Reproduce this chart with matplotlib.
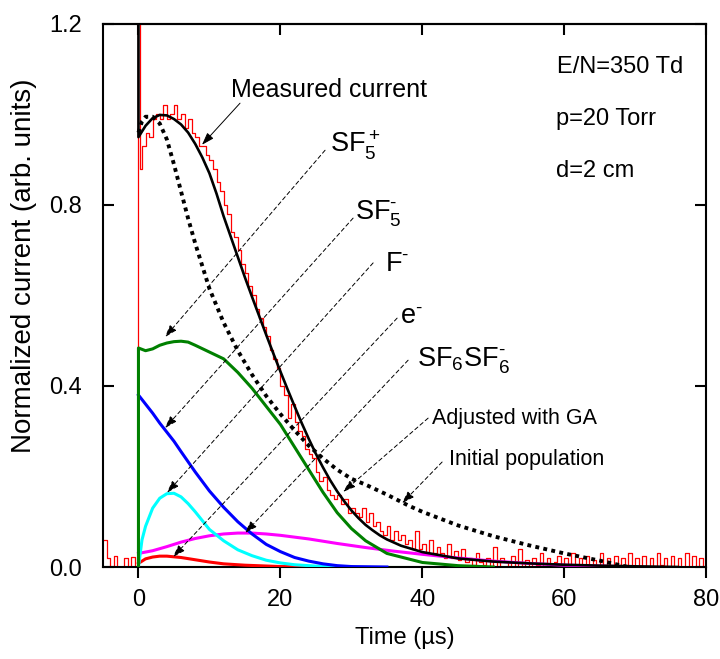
import numpy as np
import matplotlib
matplotlib.use("Agg")
import matplotlib.pyplot as plt

plt.rcParams['font.family'] = ['Liberation Sans', 'DejaVu Sans']
plt.rcParams['mathtext.fontset'] = 'custom'
plt.rcParams['mathtext.rm'] = 'Liberation Sans'
plt.rcParams['mathtext.it'] = 'Liberation Sans'
plt.rcParams['mathtext.default'] = 'rm'

# ---- measured current (noisy signal), 0.5 us sampling ----
meas_t_pre = np.arange(-5.0, 0.0, 0.5)
meas_pre = [0.06, 0.02, 0.0, 0.025, 0.0, 0.0, 0.02, 0.0, 0.022, 0.0]
meas_t_spike = [0.0, 0.15]
meas_spike = [1.3, 0.88]
meas_t_post = np.arange(0.5, 80.01, 0.5)
meas_post = [
    0.93, 0.96, 0.95, 0.99, 1.00, 0.99, 1.02, 0.99, 1.00, 1.02,   # 0.5-5
    0.99, 1.00, 0.97, 0.99, 0.96, 0.95, 0.93, 0.93, 0.91, 0.90,   # 5.5-10
    0.88, 0.85, 0.83, 0.80, 0.78, 0.74, 0.73, 0.70, 0.67, 0.65,   # 10.5-15
    0.62, 0.60, 0.57, 0.55, 0.53, 0.51, 0.48, 0.46, 0.44, 0.40,   # 15.5-20
    0.38, 0.33, 0.36, 0.32, 0.30, 0.29, 0.26, 0.25, 0.24, 0.21,   # 20.5-25
    0.19, 0.20, 0.17, 0.16, 0.15, 0.16, 0.14, 0.15, 0.12, 0.13,   # 25.5-30
    0.12, 0.11, 0.13, 0.10, 0.12, 0.09, 0.10, 0.08, 0.07, 0.09,   # 30.5-35
    0.06, 0.08, 0.06, 0.07, 0.05, 0.06, 0.04, 0.08, 0.04, 0.05,   # 35.5-40
    0.03, 0.06, 0.03, 0.045, 0.03, 0.02, 0.05, 0.02, 0.035, 0.015,  # 40.5-45
    0.04, 0.01, 0.02, 0.005, 0.03, 0.01, 0.005, 0.02, 0.0, 0.045,   # 45.5-50
    0.0, 0.02, 0.01, 0.0, 0.025, 0.0, 0.04, 0.0, 0.015, 0.0,        # 50.5-55
    0.02, 0.005, 0.03, 0.0, 0.02, 0.0, 0.01, 0.025, 0.0, 0.02,      # 55.5-60
    0.0, 0.03, 0.005, 0.02, 0.0, 0.025, 0.0, 0.015, 0.0, 0.03,      # 60.5-65
    0.0, 0.02, 0.0, 0.025, 0.005, 0.02, 0.0, 0.03, 0.0, 0.02,       # 65.5-70
    0.0, 0.025, 0.0, 0.02, 0.0, 0.03, 0.005, 0.02, 0.0, 0.025,      # 70.5-75
    0.0, 0.02, 0.0, 0.03, 0.0, 0.025, 0.0, 0.02, 0.0, 0.02,         # 75.5-80
]

# ---- adjusted with GA (sum of species) ----
fit_t = [0, 0, 1, 2, 3, 4, 5, 6, 7, 8, 9, 10, 11, 12, 13, 14, 15, 16, 17, 18,
         19, 20, 21, 22, 23, 24, 25, 26, 27, 28, 29, 30, 31, 32, 33, 34, 35, 37,
         40, 45, 50, 55, 60, 65, 70, 76]
fit_v = [1.3, 0.95, 0.975, 0.992, 0.999, 0.998, 0.99, 0.978, 0.96, 0.935, 0.905,
         0.87, 0.825, 0.775, 0.73, 0.685, 0.64, 0.597, 0.555, 0.513, 0.472, 0.432,
         0.393, 0.355, 0.318, 0.283, 0.25, 0.22, 0.192, 0.167, 0.145, 0.125, 0.108,
         0.093, 0.081, 0.07, 0.061, 0.047, 0.033, 0.019, 0.012, 0.008, 0.005,
         0.003, 0.0015, 0.0]

# ---- initial population ----
init_t = [0, 0.5, 1, 2, 3, 4, 5, 6, 7, 8, 10, 12, 14, 16, 18, 20, 22, 24, 26, 28,
          30, 32, 35, 38, 40, 45, 50, 55, 60, 65, 69]
init_v = [0.96, 0.985, 0.995, 0.995, 0.98, 0.945, 0.89, 0.83, 0.77, 0.715, 0.615,
          0.54, 0.478, 0.425, 0.378, 0.338, 0.302, 0.268, 0.24, 0.215, 0.195,
          0.182, 0.16, 0.136, 0.122, 0.092, 0.068, 0.048, 0.03, 0.014, 0.0]

# ---- species ----
sf5p_t = [0, 0, 1, 2, 3, 4, 5, 6, 7, 8, 10, 12, 14, 16, 18, 20, 22, 24, 26, 28,
          30, 32, 35, 40, 45, 50]
sf5p_v = [0.0, 0.484, 0.478, 0.482, 0.49, 0.495, 0.498, 0.499, 0.497, 0.49, 0.475,
          0.46, 0.43, 0.395, 0.355, 0.315, 0.265, 0.215, 0.165, 0.12, 0.085,
          0.058, 0.03, 0.01, 0.003, 0.0]

sf5m_t = [0, 1, 2, 3, 4, 5, 6, 8, 10, 12, 14, 16, 18, 20, 22, 24, 26, 28, 30, 35]
sf5m_v = [0.38, 0.36, 0.34, 0.318, 0.298, 0.278, 0.255, 0.21, 0.168, 0.132, 0.1,
          0.073, 0.05, 0.034, 0.021, 0.013, 0.007, 0.003, 0.001, 0.0]

fm_t = [0, 0.5, 1, 2, 3, 4, 5, 6, 7, 8, 10, 12, 14, 16, 18, 20, 22, 25, 30]
fm_v = [0.0, 0.06, 0.09, 0.13, 0.152, 0.162, 0.163, 0.155, 0.14, 0.122, 0.083,
        0.058, 0.038, 0.025, 0.015, 0.009, 0.005, 0.002, 0.0]

em_t = [0, 1, 2, 3, 4, 6, 8, 10, 12, 15, 20, 25]
em_v = [0.008, 0.018, 0.022, 0.024, 0.024, 0.021, 0.016, 0.011, 0.007, 0.004, 0.001, 0.0]

dim_t = [0, 2, 4, 6, 8, 10, 12, 14, 16, 18, 20, 24, 28, 32, 36, 40, 45, 50, 55,
         60, 65, 70]
dim_v = [0.03, 0.036, 0.045, 0.055, 0.063, 0.069, 0.073, 0.075, 0.075, 0.073, 0.07,
         0.062, 0.052, 0.043, 0.035, 0.028, 0.02, 0.013, 0.008, 0.004, 0.002, 0.0]

other_t = [0, 76]
other_v = [0.0, 0.0]

meas_t = np.concatenate([meas_t_pre, meas_t_spike, meas_t_post])
meas_v = np.concatenate([meas_pre, meas_spike, meas_post])

fig = plt.figure(figsize=(7.2, 6.59), dpi=100)
ax = fig.add_axes([0.143, 0.1396, 0.838, 0.824])

ax.plot(meas_t, meas_v, color='red', lw=0.9, drawstyle='steps-post', zorder=1)
ax.plot(other_t, other_v, color='#00ff00', lw=2.2, zorder=2)
ax.plot(dim_t, dim_v, color='#ff00ff', lw=2.2, zorder=3)
ax.plot(em_t, em_v, color='red', lw=2.2, zorder=3)
ax.plot(fm_t, fm_v, color='cyan', lw=2.2, zorder=3)
ax.plot(sf5m_t, sf5m_v, color='blue', lw=2.2, zorder=3)
ax.plot(sf5p_t, sf5p_v, color='green', lw=2.2, zorder=3)
ax.plot(init_t, init_v, color='black', lw=2.8, linestyle=(0, (1, 1.1)), zorder=4)
ax.plot(fit_t, fit_v, color='black', lw=1.9, zorder=5)

ax.set_xlim(-5, 80)
ax.set_ylim(0, 1.2)
ax.set_xticks([0, 20, 40, 60, 80])
ax.set_yticks([0.0, 0.4, 0.8, 1.2])
ax.set_yticklabels(['0.0', '0.4', '0.8', '1.2'])

for s in ax.spines.values():
    s.set_linewidth(1.5)
ax.tick_params(axis='x', direction='out', length=8, width=1.5, labelsize=17, pad=8,
               top=False)
ax.tick_params(axis='y', direction='in', length=8, width=1.5, labelsize=17, pad=15,
               left=True, right=True)
top = ax.secondary_xaxis('top')
top.set_xticks([0, 20, 40, 60, 80])
top.tick_params(direction='in', length=8, width=1.5, labeltop=False)
top.spines['top'].set_linewidth(1.5)

ax.set_xlabel('Time (\u00b5s)', fontsize=17, labelpad=11)
ax.set_ylabel('Normalized current (arb. units)', fontsize=20)
ax.yaxis.set_label_coords(-0.11, 0.555)

# conditions
ax.text(59.0, 1.092, 'E/N=350 Td', fontsize=17)
ax.text(58.85, 0.977, 'p=20 Torr', fontsize=17)
ax.text(58.85, 0.862, 'd=2 cm', fontsize=17)

# labels with arrows
dash = (0, (4, 3))
arrow_kw = dict(arrowstyle='-|>,head_length=0.75,head_width=0.25', color='black',
                lw=0.7, linestyle=dash, shrinkA=0, shrinkB=0, mutation_scale=10)
minus = r'\text{-}'
labels = [
    ('Measured current', (13.1, 1.039), (14.31, 1.025), (8.95, 0.933), 18, '-'),
    ('SF$_5^+$', (27.0, 0.915), (26.29, 0.921), (3.74, 0.508), 19.5, dash),
    ('SF$_5^{' + minus + '}$', (30.5, 0.767), (30.24, 0.771), (3.74, 0.307), 19.5, dash),
    ('F$^{' + minus + '}$', (34.75, 0.654), (33.06, 0.672), (4.02, 0.164), 19.5, dash),
    ('e$^{' + minus + '}$', (36.9, 0.539), (36.44, 0.550), (4.86, 0.022), 19.5, dash),
    ('SF$_6$SF$_6^{' + minus + '}$', (39.2, 0.442), (37.99, 0.457), (15.01, 0.075), 19.5, dash),
    ('Adjusted with GA', (41.3, 0.316), (40.81, 0.329), (28.83, 0.166), 15.5, dash),
    ('Initial population', (43.7, 0.225), (42.78, 0.232), (37.14, 0.141), 15.5, dash),
]
for txt, tpos, start, tip, fs, ls in labels:
    ax.text(tpos[0], tpos[1], txt, fontsize=fs, ha='left', va='baseline', zorder=7)
    kw = dict(arrow_kw)
    kw['linestyle'] = ls
    ax.annotate('', xy=tip, xytext=start, arrowprops=kw, zorder=6)

fig.savefig('out.png', dpi=100)
